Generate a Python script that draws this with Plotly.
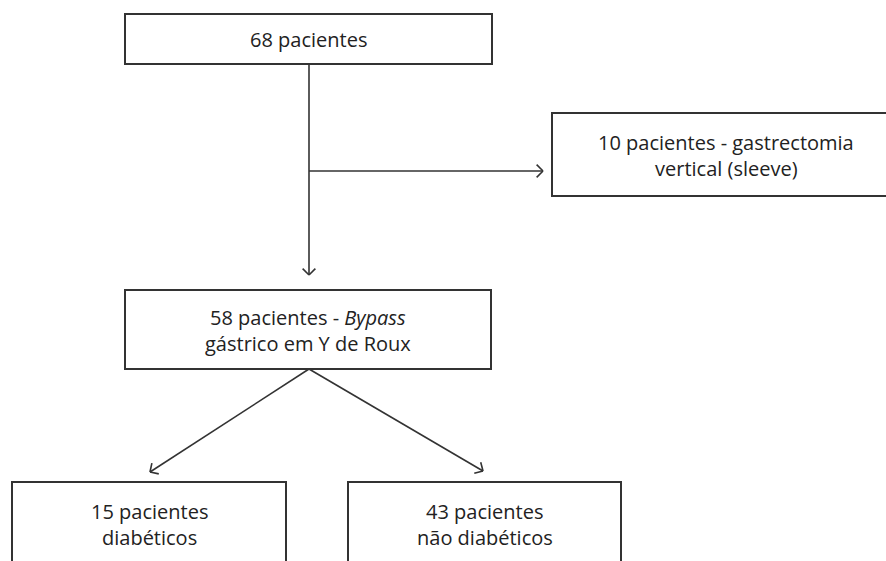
import math
import plotly.graph_objects as go

# ---- content ----
box_labels = [
    "68 pacientes",
    "10 pacientes - gastrectomia<br>vertical (sleeve)",
    "58 pacientes - <i>Bypass</i><br>gástrico em Y de Roux",
    "15 pacientes<br>diabéticos",
    "43 pacientes<br>não diabéticos",
]
# box layout in pixel coords: (x0, y0, x1, y1)
box_pos = [
    (125, 14, 492, 64),
    (552, 113, 900, 196),
    (125, 290, 491, 369),
    (12, 482, 286, 600),
    (348, 482, 621, 600),
]
text_cy = [39, 155, 330, 524, 524]
LINE_GAP = 26

# connectors: (x0, y0, x1, y1)
connectors = [
    (309, 64, 309, 275),
    (309, 171, 543, 171),
    (309, 369, 150, 472),
    (309, 369, 483, 471),
]

LINE = "#333333"
W, H = 886, 561

fig = go.Figure()
shapes = []
for (x0, y0, x1, y1) in box_pos:
    shapes.append(dict(type="rect", xref="x", yref="y", x0=x0, y0=y0, x1=x1, y1=y1,
                       line=dict(color=LINE, width=2), fillcolor="white", layer="below"))

for (x0, y0, x1, y1) in connectors:
    shapes.append(dict(type="line", xref="x", yref="y", x0=x0, y0=y0, x1=x1, y1=y1,
                       line=dict(color=LINE, width=1.6)))
    ang = math.atan2(y1 - y0, x1 - x0)
    L = 9
    for d in (math.radians(135), -math.radians(135)):
        a = ang + d
        shapes.append(dict(type="line", xref="x", yref="y", x0=x1, y0=y1,
                           x1=x1 + L * math.cos(a), y1=y1 + L * math.sin(a),
                           line=dict(color=LINE, width=1.6)))

annotations = []
for lab, (x0, y0, x1, y1), cy in zip(box_labels, box_pos, text_cy):
    cx = (x0 + x1) / 2
    lines = lab.split("<br>")
    n = len(lines)
    for i, ln in enumerate(lines):
        ty = cy + (i - (n - 1) / 2) * LINE_GAP
        annotations.append(dict(x=cx, y=ty, xref="x", yref="y", text=ln, showarrow=False,
                                font=dict(family="Open Sans", size=20, color="#222222"),
                                align="center", xanchor="center", yanchor="middle"))

fig.update_layout(
    width=W, height=H,
    margin=dict(l=0, r=0, t=0, b=0),
    paper_bgcolor="white", plot_bgcolor="white",
    xaxis=dict(range=[0, W], visible=False, fixedrange=True),
    yaxis=dict(range=[H, 0], visible=False, fixedrange=True),
    shapes=shapes, annotations=annotations, showlegend=False,
)
fig.write_html("out.html", config={"displayModeBar": False},
               post_script="document.body.style.margin='0px';document.body.style.overflow='hidden';")
